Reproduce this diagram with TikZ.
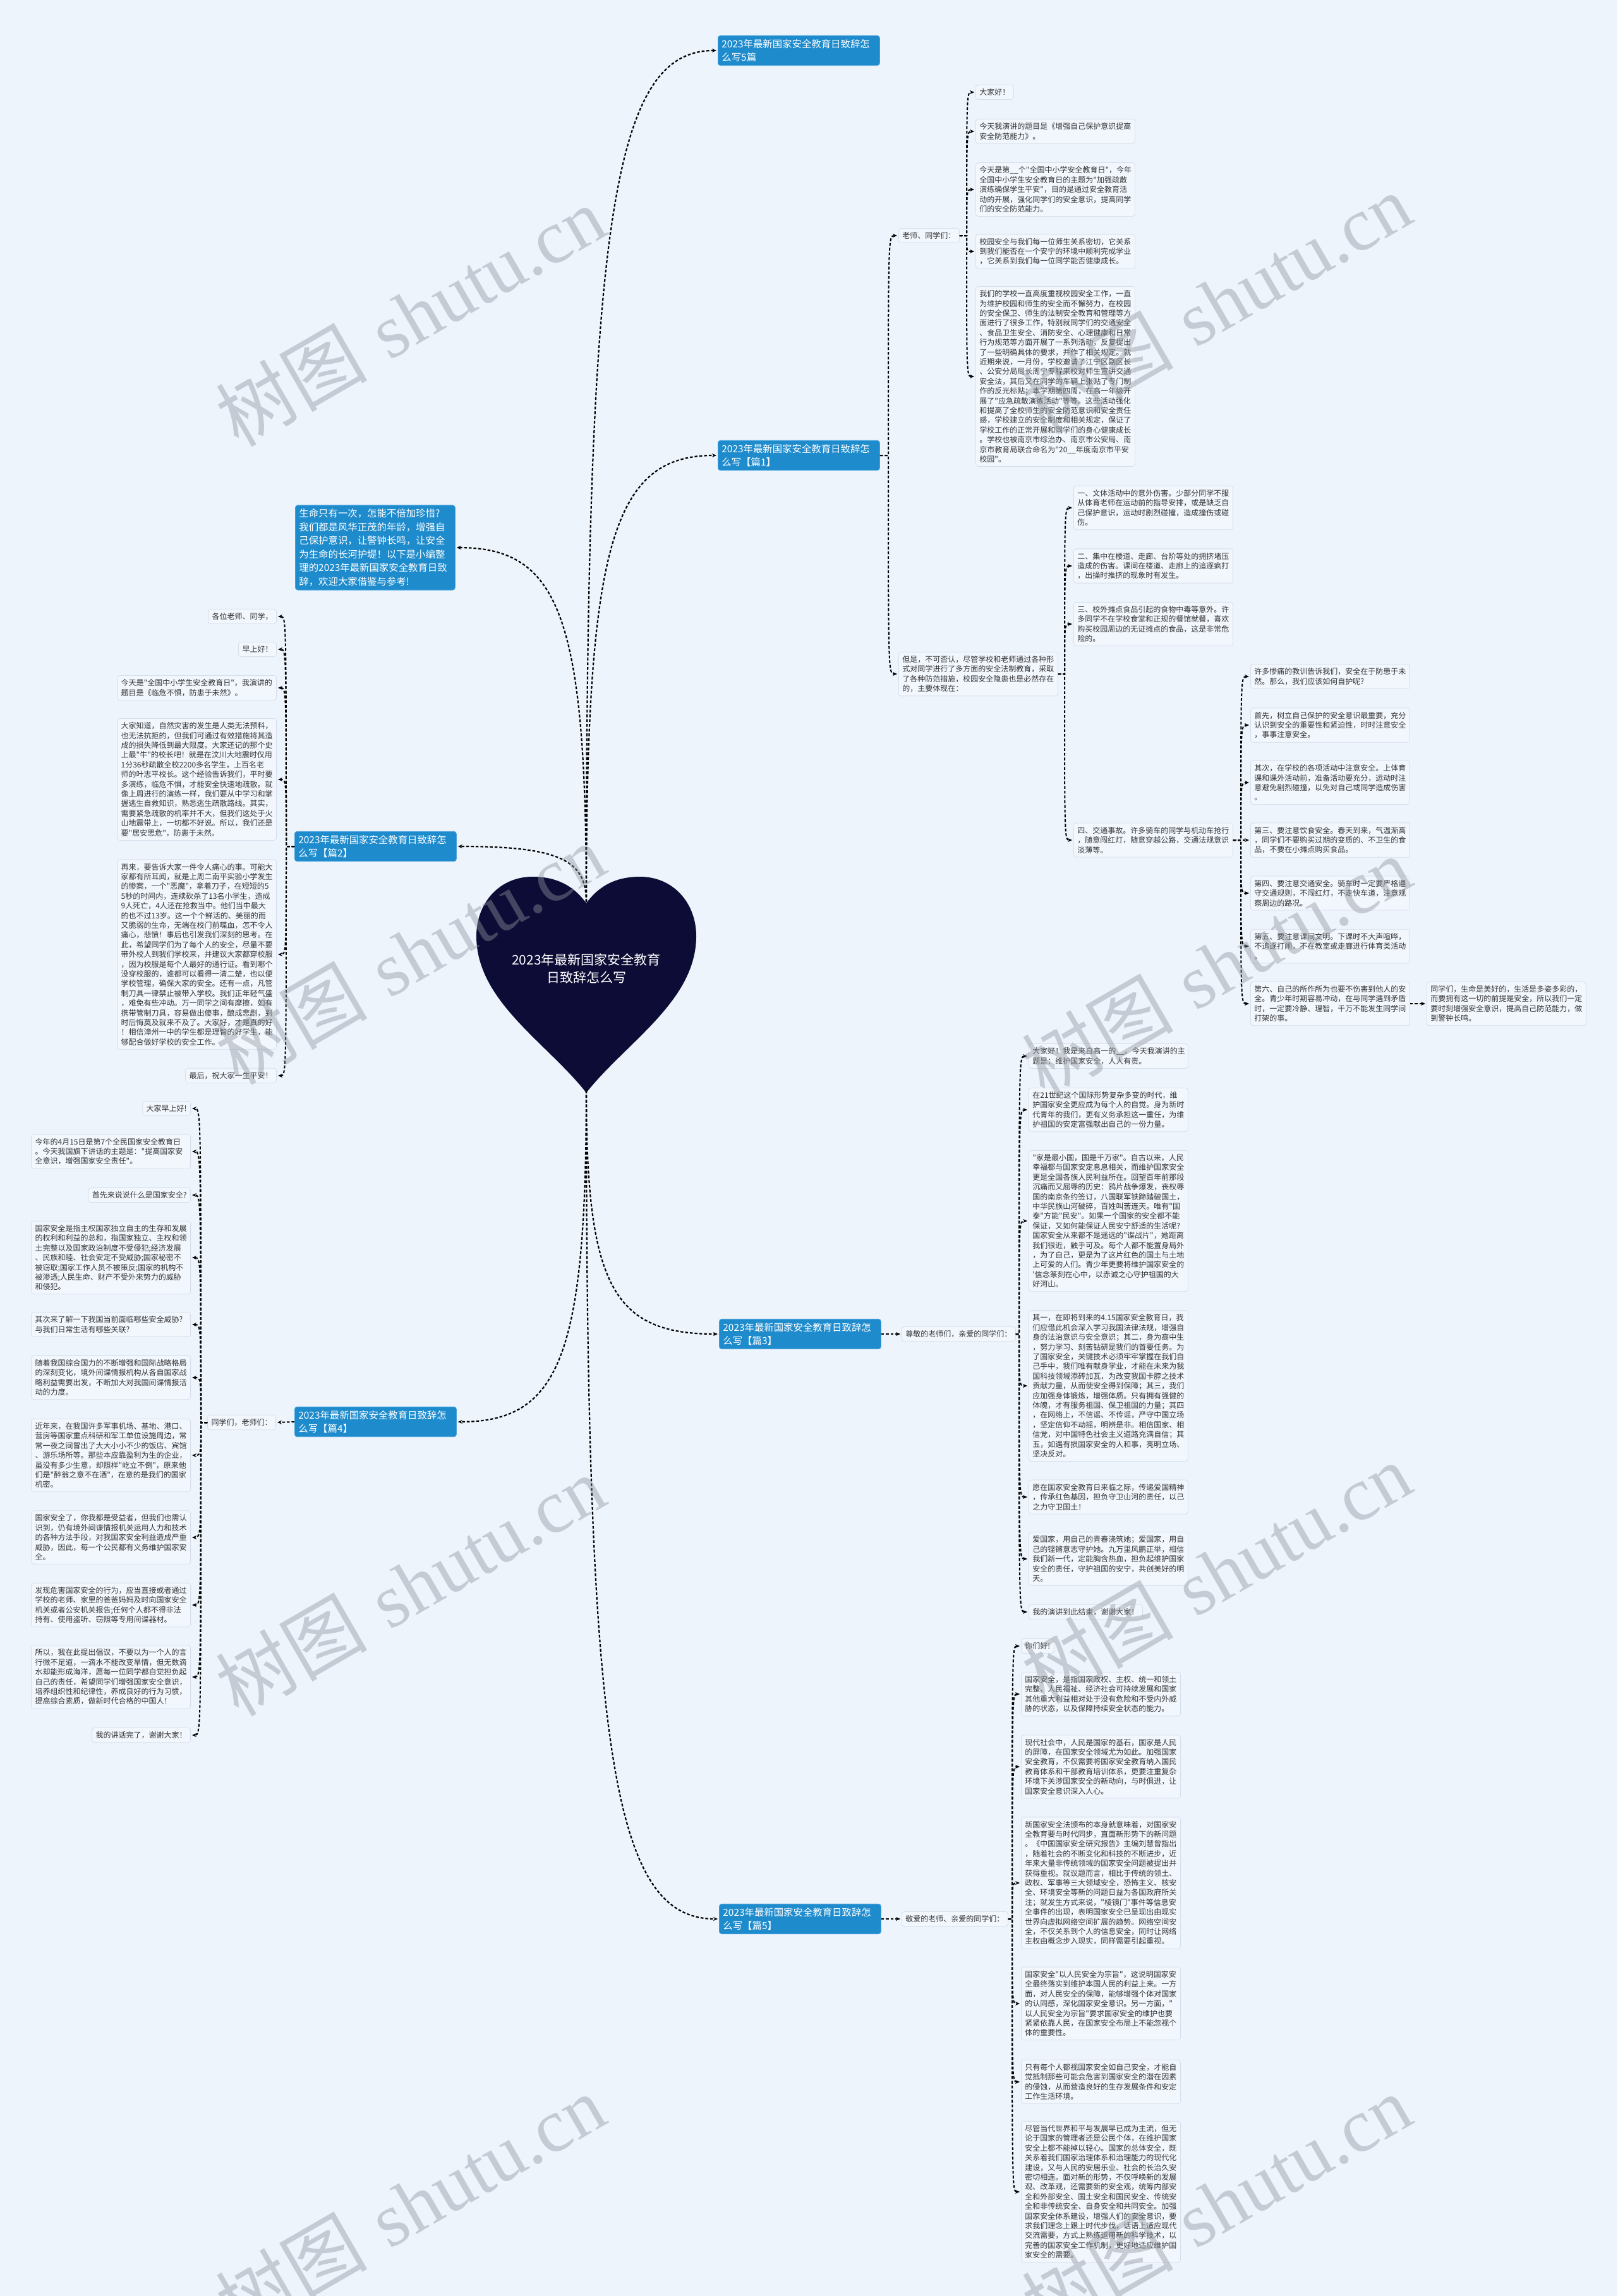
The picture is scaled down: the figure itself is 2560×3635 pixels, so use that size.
\documentclass[tikz,border=0pt]{standalone}
\usepackage{fontspec}
\usetikzlibrary{arrows.meta}
\newfontfamily\cjk{Noto Sans CJK SC}
\newfontfamily\wmlat{Liberation Serif}
\definecolor{bgc}{HTML}{EEF4FC}
\definecolor{bluebox}{HTML}{1E8BCD}
\definecolor{blueedge}{HTML}{4AA3DD}
\definecolor{heartc}{HTML}{0D0C36}
\definecolor{txtc}{HTML}{333333}
\definecolor{boxfill}{HTML}{F2F7FE}
\definecolor{boxedge}{HTML}{D6DFEC}
\definecolor{wmc}{HTML}{8E949E}
\tikzset{
  txt/.style={draw=boxedge, fill=boxfill, rounded corners=4pt, line width=0.8pt, text=txtc,
    font=\cjk\fontsize{12}{15.4}\selectfont, inner xsep=6pt, inner ysep=6pt, align=left},
  txtw/.style={txt, text width=240pt},
  branch/.style={draw=blueedge, fill=bluebox, rounded corners=4pt, line width=0.8pt, text=white,
    font=\cjk\fontsize{15.4}{21}\selectfont, inner xsep=6pt, inner ysep=6pt, align=left, text width=244pt},
  conn/.style={draw=black, line width=2pt, dash pattern=on 4.5pt off 3pt,
    -{Stealth[length=7pt,width=6pt]}, shorten >=2pt},
  mconn/.style={conn, line width=2.2pt},
  wm/.style={text=wmc, text opacity=0.42, rotate=30, inner sep=0pt, font=\fontsize{120}{120}\selectfont}
}
\newcommand{\myR}[3]{\draw[conn] (#1.east) -- (#1.east -| #2) .. controls (#2 |- #3.west) and (#2 |- #3.west) .. (#3.west);}
\newcommand{\myL}[3]{\draw[conn] (#1.west) -- (#1.west -| #2) .. controls (#2 |- #3.east) and (#2 |- #3.east) .. (#3.east);}
\begin{document}
\begin{tikzpicture}[x=1pt,y=-1pt]
\useasboundingbox (0,0) rectangle (2560,3635);
\fill[bgc] (0,0) rectangle (2560,3635);

% ---------- heart ----------
\fill[heartc] (928,1430) .. controls (905,1398) and (875,1388) .. (843,1388)
  .. controls (790,1388) and (754,1430) .. (754,1482)
  .. controls (754,1585) and (865,1650) .. (928,1730)
  .. controls (991,1650) and (1102,1585) .. (1102,1482)
  .. controls (1102,1430) and (1066,1388) .. (1013,1388)
  .. controls (981,1388) and (951,1398) .. (928,1430) -- cycle;
\node[text=white, font=\cjk\fontsize{21}{28}\selectfont, align=center] (title) at (928,1533) {2023年最新国家安全教育\\日致辞怎么写};
\coordinate (htop) at (928,1428);
\coordinate (hbot) at (928,1726);

% ---------- branches ----------
\node[branch, anchor=west] (T0) at (1136,80) {2023年最新国家安全教育日致辞怎\\么写5篇};
\node[branch, anchor=west] (P1) at (1136,721) {2023年最新国家安全教育日致辞怎\\么写【篇1】};
\node[branch, anchor=west, text width=241pt, font=\cjk\fontsize{15.4}{21.5}\selectfont] (intro) at (467,867) {生命只有一次，怎能不倍加珍惜?\\我们都是风华正茂的年龄，增强自\\己保护意识，让警钟长鸣，让安全\\为生命的长河护堤！以下是小编整\\理的2023年最新国家安全教育日致\\辞，欢迎大家借鉴与参考!};
\node[branch, anchor=west] (P2) at (466,1340) {2023年最新国家安全教育日致辞怎\\么写【篇2】};
\node[branch, anchor=west] (P3) at (1138,2112) {2023年最新国家安全教育日致辞怎\\么写【篇3】};
\node[branch, anchor=west] (P4) at (466,2251) {2023年最新国家安全教育日致辞怎\\么写【篇4】};
\node[branch, anchor=west] (P5) at (1138,3038) {2023年最新国家安全教育日致辞怎\\么写【篇5】};

% ---------- 篇1 ----------
\coordinate (s1) at (1406,0);
\coordinate (s2) at (1530,0);
\coordinate (s3) at (1685,0);
\coordinate (s4) at (1964,0);
\node[txt, anchor=west] (t1) at (1422,373) {老师、同学们：};
\node[txtw, anchor=west] (d0) at (1422,1067) {但是，不可否认，尽管学校和老师通过各种形\\式对同学进行了多方面的安全法制教育，采取\\了各种防范措施，校园安全隐患也是必然存在\\的，主要体现在：};
\node[txt, anchor=west] (a1) at (1544,146) {大家好！};
\node[txtw, anchor=west] (a2) at (1544,208) {今天我演讲的题目是《增强自己保护意识提高\\安全防范能力》。};
\node[txtw, anchor=west] (a3) at (1544,300) {今天是第\_\_个"全国中小学安全教育日"，今年\\全国中小学生安全教育日的主题为"加强疏散\\演练确保学生平安"，目的是通过安全教育活\\动的开展，强化同学们的安全意识，提高同学\\们的安全防范能力。};
\node[txtw, anchor=west] (a4) at (1544,398) {校园安全与我们每一位师生关系密切，它关系\\到我们能否在一个安宁的环境中顺利完成学业\\，它关系到我们每一位同学能否健康成长。};
\node[txtw, anchor=west] (a5) at (1544,596) {我们的学校一直高度重视校园安全工作，一直\\为维护校园和师生的安全而不懈努力，在校园\\的安全保卫、师生的法制安全教育和管理等方\\面进行了很多工作，特别就同学们的交通安全\\、食品卫生安全、消防安全、心理健康和日常\\行为规范等方面开展了一系列活动，反复提出\\了一些明确具体的要求，并作了相关规定。就\\近期来说，一月份，学校邀请了江宁区副区长\\、公安分局局长周宁专程来校对师生宣讲交通\\安全法，其后又在同学的车辆上张贴了专门制\\作的反光标贴；本学期第四周，在高一年级开\\展了"应急疏散演练活动"等等。这些活动强化\\和提高了全校师生的安全防范意识和安全责任\\感，学校建立的安全制度和相关规定，保证了\\学校工作的正常开展和同学们的身心健康成长\\。学校也被南京市综治办、南京市公安局、南\\京市教育局联合命名为"20\_\_年度南京市平安\\校园"。};
\node[txtw, anchor=west] (b1) at (1699,804) {一、文体活动中的意外伤害。少部分同学不服\\从体育老师在运动前的指导安排，或是缺乏自\\己保护意识，运动时剧烈碰撞，造成撞伤或碰\\伤。};
\node[txtw, anchor=west] (b2) at (1699,896) {二、集中在楼道、走廊、台阶等处的拥挤堵压\\造成的伤害。课间在楼道、走廊上的追逐疯打\\，出操时推挤的现象时有发生。};
\node[txtw, anchor=west] (b3) at (1699,988) {三、校外摊点食品引起的食物中毒等意外。许\\多同学不在学校食堂和正规的餐馆就餐，喜欢\\购买校园周边的无证摊点的食品，这是非常危\\险的。};
\node[txtw, anchor=west] (b4) at (1699,1330) {四、交通事故。许多骑车的同学与机动车抢行\\，随意闯红灯，随意穿越公路，交通法规意识\\淡薄等。};
\node[txtw, anchor=west] (c1) at (1979,1071) {许多惨痛的教训告诉我们，安全在于防患于未\\然。那么，我们应该如何自护呢?};
\node[txtw, anchor=west] (c2) at (1979,1148) {首先，树立自己保护的安全意识最重要，充分\\认识到安全的重要性和紧迫性，时时注意安全\\，事事注意安全。};
\node[txtw, anchor=west] (c3) at (1979,1239) {其次，在学校的各项活动中注意安全。上体育\\课和课外活动前，准备活动要充分，运动时注\\意避免剧烈碰撞，以免对自己或同学造成伤害\\。};
\node[txtw, anchor=west] (c4) at (1979,1330) {第三、要注意饮食安全。春天到来，气温渐高\\，同学们不要购买过期的变质的、不卫生的食\\品，不要在小摊点购买食品。};
\node[txtw, anchor=west] (c5) at (1979,1414) {第四、要注意交通安全。骑车时一定要严格遵\\守交通规则，不闯红灯，不走快车道，注意观\\察周边的路况。};
\node[txtw, anchor=west] (c6) at (1979,1498) {第五、要注意课间文明。下课时不大声喧哗，\\不追逐打闹，不在教室或走廊进行体育类活动\\。};
\node[txtw, anchor=west] (c7) at (1979,1589) {第六、自己的所作所为也要不伤害到他人的安\\全。青少年时期容易冲动，在与同学遇到矛盾\\时，一定要冷静、理智，千万不能发生同学间\\打架的事。};
\node[txtw, anchor=west] (c8) at (2258,1589) {同学们，生命是美好的，生活是多姿多彩的，\\而要拥有这一切的前提是安全，所以我们一定\\要时刻增强安全意识，提高自己防范能力，做\\到警钟长鸣。};

% ---------- 篇2 ----------
\coordinate (s5) at (453,0);
\node[txt, anchor=east] (e1) at (438,976) {各位老师、同学，};
\node[txt, anchor=east] (e2) at (438,1028) {早上好！};
\node[txtw, anchor=east] (e3) at (438,1089) {今天是"全国中小学生安全教育日"，我演讲的\\题目是《临危不惧，防患于未然》。};
\node[txtw, anchor=east] (e4) at (438,1234) {大家知道，自然灾害的发生是人类无法预料，\\也无法抗拒的，但我们可通过有效措施将其造\\成的损失降低到最大限度。大家还记的那个史\\上最"牛"的校长吧！就是在汶川大地震时仅用\\1分36秒疏散全校2200多名学生，上百名老\\师的叶志平校长。这个经验告诉我们，平时要\\多演练，临危不惧，才能安全快速地疏散。就\\像上周进行的演练一样，我们要从中学习和掌\\握逃生自救知识，熟悉逃生疏散路线。其实，\\需要紧急疏散的机率并不大，但我们这处于火\\山地震带上，一切都不好说。所以，我们还是\\要"居安思危"，防患于未然。};
\node[txtw, anchor=east] (e5) at (438,1511) {再来，要告诉大家一件令人痛心的事。可能大\\家都有所耳闻，就是上周二南平实验小学发生\\的惨案，一个"恶魔"，拿着刀子，在短短的5\\5秒的时间内，连续砍杀了13名小学生，造成\\9人死亡，4人还在抢救当中。他们当中最大\\的也不过13岁。这一个个鲜活的、美丽的而\\又脆弱的生命，无端在校门前喋血，怎不令人\\痛心，悲愤！事后也引发我们深刻的思考。在\\此，希望同学们为了每个人的安全，尽量不要\\带外校人到我们学校来，并建议大家都穿校服\\，因为校服是每个人最好的通行证。看到哪个\\没穿校服的，谁都可以看得一清二楚，也以便\\学校管理，确保大家的安全。还有一点，凡管\\制刀具一律禁止被带入学校。我们正年轻气盛\\，难免有些冲动。万一同学之间有摩擦，如有\\携带管制刀具，容易做出傻事，酿成悲剧，到\\时后悔莫及就来不及了。大家好，才是真的好\\！相信漳州一中的学生都是理智的好学生，能\\够配合做好学校的安全工作。};
\node[txt, anchor=east] (e6) at (438,1703) {最后，祝大家一生平安！};

% ---------- 篇3 ----------
\coordinate (s6) at (1613,0);
\node[txt, anchor=west] (l3) at (1427,2112) {尊敬的老师们，亲爱的同学们：};
\node[txtw, anchor=west] (g1) at (1628,1672) {大家好！我是来自高一的\_\_。今天我演讲的主\\题是：维护国家安全，人人有责。};
\node[txtw, anchor=west] (g2) at (1628,1757) {在21世纪这个国际形势复杂多变的时代，维\\护国家安全更应成为每个人的自觉。身为新时\\代青年的我们，更有义务承担这一重任，为维\\护祖国的安定富强献出自己的一份力量。};
\node[txtw, anchor=west] (g3) at (1628,1933) {"家是最小国，国是千万家"。自古以来，人民\\幸福都与国家安定息息相关，而维护国家安全\\更是全国各族人民利益所在。回望百年前那段\\沉痛而又屈辱的历史：鸦片战争爆发，丧权辱\\国的南京条约签订，八国联军铁蹄踏破国土，\\中华民族山河破碎，百姓叫苦连天。唯有"国\\泰"方能"民安"。如果一个国家的安全都不能\\保证，又如何能保证人民安宁舒适的生活呢?\\国家安全从来都不是遥远的"谍战片"，她距离\\我们很近，触手可及。每个人都不能置身局外\\，为了自己，更是为了这片红色的国土与土地\\上可爱的人们。青少年更要将维护国家安全的\\'信念篆刻在心中，以赤诚之心守护祖国的大\\好河山。};
\node[txtw, anchor=west] (g4) at (1628,2194) {其一，在即将到来的4.15国家安全教育日，我\\们应借此机会深入学习我国法律法规，增强自\\身的法治意识与安全意识；其二，身为高中生\\，努力学习、刻苦钻研是我们的首要任务。为\\了国家安全，关键技术必须牢牢掌握在我们自\\己手中，我们唯有献身学业，才能在未来为我\\国科技领域添砖加瓦，为改变我国卡脖之技术\\贡献力量，从而使安全得到保障；其三，我们\\应加强身体锻炼，增强体质。只有拥有强健的\\体魄，才有服务祖国、保卫祖国的力量；其四\\，在网络上，不信谣、不传谣，严守中国立场\\，坚定信仰不动摇，明辨是非。相信国家、相\\信党，对中国特色社会主义道路充满自信；其\\五，如遇有损国家安全的人和事，亮明立场、\\坚决反对。};
\node[txtw, anchor=west] (g5) at (1628,2370) {愿在国家安全教育日来临之际，传递爱国精神\\，传承红色基因，担负守卫山河的责任，以己\\之力守卫国土！};
\node[txtw, anchor=west] (g6) at (1628,2468) {爱国家，用自己的青春浇筑她；爱国家，用自\\己的铿锵意志守护她。九万里风鹏正举，相信\\我们新一代，定能胸含热血，担负起维护国家\\安全的责任，守护祖国的安宁，共创美好的明\\天。};
\node[txt, anchor=west] (g7) at (1628,2552) {我的演讲到此结束，谢谢大家！};

% ---------- 篇4 ----------
\coordinate (s7) at (318,0);
\node[txt, anchor=east] (l4) at (437,2252) {同学们，老师们：};
\node[txt, anchor=east] (f1) at (302,1755) {大家早上好!};
\node[txtw, anchor=east] (f2) at (302,1823) {今年的4月15日是第7个全民国家安全教育日\\。今天我国旗下讲话的主题是："提高国家安\\全意识，增强国家安全责任"。};
\node[txt, anchor=east] (f3) at (302,1892) {首先来说说什么是国家安全?};
\node[txtw, anchor=east] (f4) at (302,1991) {国家安全是指主权国家独立自主的生存和发展\\的权利和利益的总和，指国家独立、主权和领\\土完整以及国家政治制度不受侵犯;经济发展\\、民族和睦、社会安定不受威胁;国家秘密不\\被窃取;国家工作人员不被策反;国家的机构不\\被渗透;人民生命、财产不受外来势力的威胁\\和侵犯。};
\node[txtw, anchor=east] (f5) at (302,2097) {其次来了解一下我国当前面临哪些安全威胁?\\与我们日常生活有哪些关联?};
\node[txtw, anchor=east] (f6) at (302,2181) {随着我国综合国力的不断增强和国际战略格局\\的深刻变化，境外间谍情报机构从各自国家战\\略利益需要出发，不断加大对我国间谍情报活\\动的力度。};
\node[txtw, anchor=east] (f7) at (302,2304) {近年来，在我国许多军事机场、基地、港口、\\营房等国家重点科研和军工单位设施周边，常\\常一夜之间冒出了大大小小不少的饭店、宾馆\\、游乐场所等。那些本应靠盈利为生的企业，\\虽没有多少生意，却照样"屹立不倒"，原来他\\们是"醉翁之意不在酒"，在意的是我们的国家\\机密。};
\node[txtw, anchor=east] (f8) at (302,2434) {国家安全了，你我都是受益者，但我们也需认\\识到，仍有境外间谍情报机关运用人力和技术\\的各种方法手段，对我国家安全利益造成严重\\威胁，因此，每一个公民都有义务维护国家安\\全。};
\node[txtw, anchor=east] (f9) at (302,2541) {发现危害国家安全的行为，应当直接或者通过\\学校的老师、家里的爸爸妈妈及时向国家安全\\机关或者公安机关报告;任何个人都不得非法\\持有、使用盗听、窃照等专用间谍器材。};
\node[txtw, anchor=east] (f10) at (302,2655) {所以，我在此提出倡议，不要以为一个人的言\\行微不足道，一滴水不能改变旱情，但无数滴\\水却能形成海洋，愿每一位同学都自觉担负起\\自己的责任，希望同学们增强国家安全意识，\\培养组织性和纪律性，养成良好的行为习惯，\\提高综合素质，做新时代合格的中国人！};
\node[txt, anchor=east] (f11) at (302,2747) {我的讲话完了，谢谢大家！};

% ---------- 篇5 ----------
\coordinate (s8) at (1602,0);
\node[txt, anchor=west] (l5) at (1427,3038) {敬爱的老师、亲爱的同学们：};
\node[txt, anchor=west] (h1) at (1616,2606) {你们好!};
\node[txtw, anchor=west] (h2) at (1616,2682) {国家安全，是指国家政权、主权、统一和领土\\完整、人民福祉、经济社会可持续发展和国家\\其他重大利益相对处于没有危险和不受内外威\\胁的状态，以及保障持续安全状态的能力。};
\node[txtw, anchor=west] (h3) at (1616,2797) {现代社会中，人民是国家的基石，国家是人民\\的屏障，在国家安全领域尤为如此。加强国家\\安全教育，不仅需要将国家安全教育纳入国民\\教育体系和干部教育培训体系，更要注重复杂\\环境下关涉国家安全的新动向，与时俱进，让\\国家安全意识深入人心。};
\node[txtw, anchor=west] (h4) at (1616,2981) {新国家安全法颁布的本身就意味着，对国家安\\全教育要与时代同步，直面新形势下的新问题\\。《中国国家安全研究报告》主编刘慧曾指出\\，随着社会的不断变化和科技的不断进步，近\\年来大量非传统领域的国家安全问题被提出并\\获得重视。就议题而言，相比于传统的领土、\\政权、军事等三大领域安全，恐怖主义、核安\\全、环境安全等新的问题日益为各国政府所关\\注；就发生方式来说，"棱镜门"事件等信息安\\全事件的出现，表明国家安全已呈现出由现实\\世界向虚拟网络空间扩展的趋势。网络空间安\\全，不仅关系到个人的信息安全，同时让网络\\主权由概念步入现实，同样需要引起重视。};
\node[txtw, anchor=west] (h5) at (1616,3172) {国家安全"以人民安全为宗旨"，这说明国家安\\全最终落实到维护本国人民的利益上来。一方\\面，对人民安全的保障，能够增强个体对国家\\的认同感，深化国家安全意识。另一方面，"\\以人民安全为宗旨"要求国家安全的维护也要\\紧紧依靠人民，在国家安全布局上不能忽视个\\体的重要性。};
\node[txtw, anchor=west] (h6) at (1616,3296) {只有每个人都视国家安全如自己安全，才能自\\觉抵制那些可能会危害到国家安全的潜在因素\\的侵蚀，从而营造良好的生存发展条件和安定\\工作生活环境。};
\node[txtw, anchor=west] (h7) at (1616,3470) {尽管当代世界和平与发展早已成为主流，但无\\论于国家的管理者还是公民个体，在维护国家\\安全上都不能掉以轻心。国家的总体安全，既\\关系着我们国家治理体系和治理能力的现代化\\建设，又与人民的安居乐业、社会的长治久安\\密切相连。面对新的形势，不仅呼唤新的发展\\观、改革观，还需要新的安全观，统筹内部安\\全和外部安全、国土安全和国民安全、传统安\\全和非传统安全、自身安全和共同安全。加强\\国家安全体系建设，增强人们的安全意识，要\\求我们理念上跟上时代步伐，话语上适应现代\\交流需要，方式上熟练运用新的科学技术，以\\完善的国家安全工作机制，更好地适应维护国\\家安全的需要。};

% ---------- connectors from heart ----------
\draw[mconn] (htop) .. controls (928,350) and (970,80) .. (T0.west);
\draw[mconn] (htop) .. controls (928,862) and (970,721) .. (P1.west);
\draw[mconn] (htop) .. controls (928,979) and (886,867) .. (intro.east);
\draw[mconn] (htop) .. controls (928,1362) and (886,1340) .. (P2.east);
\draw[mconn] (hbot) .. controls (928,2035) and (970,2112) .. (P3.west);
\draw[mconn] (hbot) .. controls (928,2146) and (886,2251) .. (P4.east);
\draw[mconn] (hbot) .. controls (928,2776) and (970,3038) .. (P5.west);

% ---------- 篇1 links ----------
\myR{P1}{s1}{t1}
\myR{P1}{s1}{d0}
\myR{t1}{s2}{a1}
\myR{t1}{s2}{a2}
\myR{t1}{s2}{a3}
\myR{t1}{s2}{a4}
\myR{t1}{s2}{a5}
\myR{d0}{s3}{b1}
\myR{d0}{s3}{b2}
\myR{d0}{s3}{b3}
\myR{d0}{s3}{b4}
\myR{b4}{s4}{c1}
\myR{b4}{s4}{c2}
\myR{b4}{s4}{c3}
\myR{b4}{s4}{c4}
\myR{b4}{s4}{c5}
\myR{b4}{s4}{c6}
\myR{b4}{s4}{c7}
\draw[conn] (c7.east) -- (c8.west);

% ---------- 篇2 links ----------
\myL{P2}{s5}{e1}
\myL{P2}{s5}{e2}
\myL{P2}{s5}{e3}
\myL{P2}{s5}{e4}
\myL{P2}{s5}{e5}
\myL{P2}{s5}{e6}

% ---------- 篇3 links ----------
\draw[conn] (P3.east) -- (l3.west);
\myR{l3}{s6}{g1}
\myR{l3}{s6}{g2}
\myR{l3}{s6}{g3}
\myR{l3}{s6}{g4}
\myR{l3}{s6}{g5}
\myR{l3}{s6}{g6}
\myR{l3}{s6}{g7}

% ---------- 篇4 links ----------
\draw[conn] (P4.west) -- (l4.east);
\myL{l4}{s7}{f1}
\myL{l4}{s7}{f2}
\myL{l4}{s7}{f3}
\myL{l4}{s7}{f4}
\myL{l4}{s7}{f5}
\myL{l4}{s7}{f6}
\myL{l4}{s7}{f7}
\myL{l4}{s7}{f8}
\myL{l4}{s7}{f9}
\myL{l4}{s7}{f10}
\myL{l4}{s7}{f11}

% ---------- 篇5 links ----------
\draw[conn] (P5.east) -- (l5.west);
\myR{l5}{s8}{h1}
\myR{l5}{s8}{h2}
\myR{l5}{s8}{h3}
\myR{l5}{s8}{h4}
\myR{l5}{s8}{h5}
\myR{l5}{s8}{h6}
\myR{l5}{s8}{h7}

% ---------- watermarks ----------
\node[wm] (wm1) at (649,500) {{\cjk 树图}\hspace{0.3em}{\wmlat shutu.cn}};
\node[wm] (wm2) at (1925,480) {{\cjk 树图}\hspace{0.3em}{\wmlat shutu.cn}};
\node[wm] (wm3) at (649,1510) {{\cjk 树图}\hspace{0.3em}{\wmlat shutu.cn}};
\node[wm] (wm4) at (1925,1530) {{\cjk 树图}\hspace{0.3em}{\wmlat shutu.cn}};
\node[wm] (wm5) at (649,2510) {{\cjk 树图}\hspace{0.3em}{\wmlat shutu.cn}};
\node[wm] (wm6) at (1925,2490) {{\cjk 树图}\hspace{0.3em}{\wmlat shutu.cn}};
\node[wm] (wm7) at (649,3490) {{\cjk 树图}\hspace{0.3em}{\wmlat shutu.cn}};
\node[wm] (wm8) at (1925,3490) {{\cjk 树图}\hspace{0.3em}{\wmlat shutu.cn}};
\end{tikzpicture}
\end{document}
